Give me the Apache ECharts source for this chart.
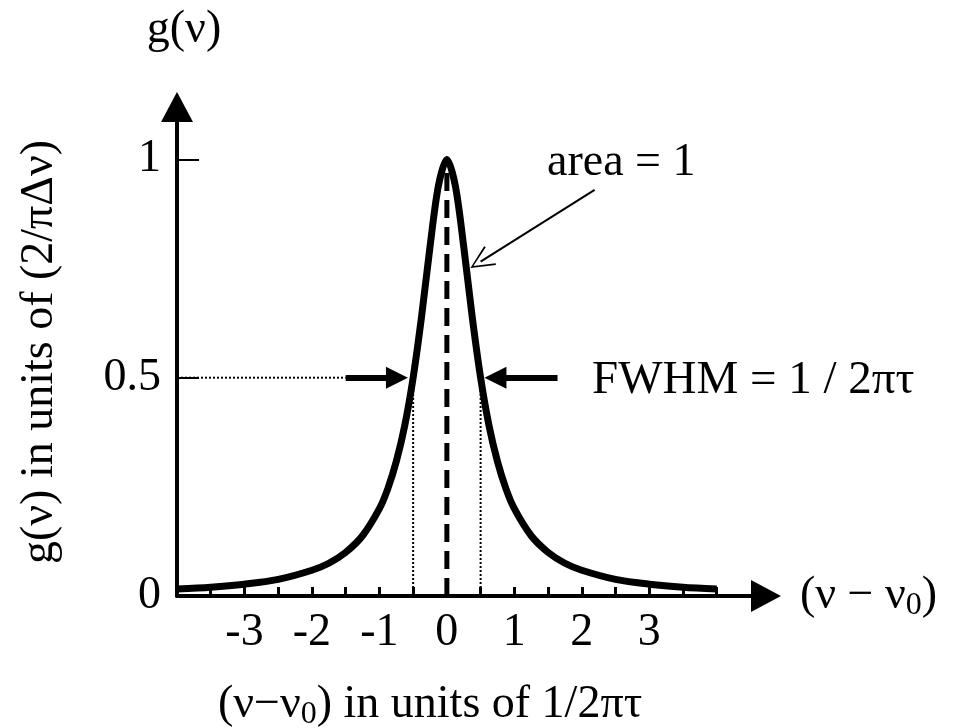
<!DOCTYPE html>
<html>
<head>
<meta charset="utf-8">
<title>Lorentzian line shape</title>
<script src="https://cdn.jsdelivr.net/npm/echarts@6/dist/echarts.min.js"></script>
<style>
  html, body { margin: 0; padding: 0; background: #fff; }
  #main { width: 955px; height: 728px; }
</style>
</head>
<body>
<div id="main"></div>
<script>
// line shape g(v) (x in units of 1/2*pi*tau)
var detuning = [-4, -3.5, -3, -2.5, -2, -1.75, -1.5, -1.25, -1, -0.875, -0.75, -0.625, -0.5, -0.375, -0.25, -0.125,
  0, 0.125, 0.25, 0.375, 0.5, 0.625, 0.75, 0.875, 1, 1.25, 1.5, 1.75, 2, 2.5, 3, 3.5, 4];
var lineShape = [0.016, 0.02, 0.027, 0.038, 0.059, 0.075, 0.1, 0.138, 0.2, 0.246, 0.308, 0.39, 0.5, 0.64, 0.8, 0.94,
  1, 0.94, 0.8, 0.64, 0.5, 0.39, 0.308, 0.246, 0.2, 0.138, 0.1, 0.075, 0.059, 0.038, 0.027, 0.02, 0.016];

// ticks and labels
var xTicks = [-4, -3.5, -3, -2.5, -2, -1.5, -1, -0.5, 0, 0.5, 1, 1.5, 2, 2.5, 3, 3.5, 4];
var xLabels = [-3, -2, -1, 0, 1, 2, 3];
var yTicks = [0.5, 1];
var yLabels = [0, 0.5, 1];

// annotation values
var peak = [0, 1];
var halfMax = 0.5;
var halfWidth = [-0.5, 0.5];
var guideFrom = -4, guideTo = -1.5;
var leftArrow = [-1.5, -0.74];
var rightArrow = [1.64, 0.72];
var areaPointer = [[2.19, 0.93], [0.5, 0.766]];

var serif = '"Liberation Serif", "Times New Roman", serif';
var fs = 46;

var chart = echarts.init(document.getElementById('main'));

function pairs(xs, ys) {
  var out = [];
  for (var i = 0; i < xs.length; i++) out.push([xs[i], ys[i]]);
  return out;
}

var option = {
  animation: false,
  backgroundColor: '#fff',
  grid: { left: 177, right: 189, top: 107, bottom: 132 },
  xAxis: {
    type: 'value',
    min: -4,
    max: 4.73,
    interval: 0.5,
    splitLine: { show: false },
    axisLine: {
      onZero: false,
      symbol: ['none', 'triangle'],
      symbolSize: [32, 30],
      lineStyle: { color: '#000', width: 4 }
    },
    axisTick: { inside: true, length: 9, customValues: xTicks, lineStyle: { color: '#000', width: 3 } },
    axisLabel: { customValues: xLabels, margin: 14, color: '#000', fontFamily: serif, fontSize: fs },
    name: '{a|(ν − ν}{s|0}{a|)}',
    nameLocation: 'end',
    nameGap: 34,
    nameTextStyle: {
      color: '#000',
      rich: {
        a: { fontFamily: serif, fontSize: fs, lineHeight: 52, color: '#000' },
        s: { fontFamily: serif, fontSize: 32, lineHeight: 26, verticalAlign: 'bottom', color: '#000' }
      }
    }
  },
  yAxis: {
    type: 'value',
    min: 0,
    max: 1.12,
    interval: 0.5,
    splitLine: { show: false },
    axisLine: {
      onZero: false,
      symbol: ['none', 'triangle'],
      symbolSize: [32, 30],
      lineStyle: { color: '#000', width: 4 }
    },
    axisTick: { inside: true, length: 22, customValues: yTicks, lineStyle: { color: '#000', width: 2 } },
    axisLabel: { customValues: yLabels, margin: 16, color: '#000', fontFamily: serif, fontSize: fs },
    name: 'g(ν)',
    nameLocation: 'end',
    nameGap: 54,
    nameTextStyle: { color: '#000', fontFamily: serif, fontSize: fs, padding: [0, 0, 0, 14] }
  },
  graphic: [
    {
      type: 'text', x: 40, y: 352, rotation: Math.PI / 2,
      style: { text: 'g(ν) in units of (2/πΔν)', font: fs + 'px ' + serif, fill: '#000', align: 'center', verticalAlign: 'middle' }
    },
    {
      type: 'text', x: 430, y: 705,
      style: {
        text: '{a|(ν−ν}{s|0}{a|) in units of 1/2πτ}', align: 'center', verticalAlign: 'middle',
        rich: {
          a: { fontFamily: serif, fontSize: fs, lineHeight: 52, fill: '#000' },
          s: { fontFamily: serif, fontSize: 32, lineHeight: 26, verticalAlign: 'bottom', fill: '#000' }
        }
      }
    },
    {
      type: 'text', x: 547, y: 163,
      style: { text: 'area = 1', font: fs + 'px ' + serif, fill: '#000', align: 'left', verticalAlign: 'middle' }
    },
    {
      type: 'text', x: 592, y: 381,
      style: { text: 'FWHM = 1 / 2πτ', font: '47px ' + serif, fill: '#000', align: 'left', verticalAlign: 'middle' }
    }
  ],
  series: [
    {
      name: 'peak', type: 'line', silent: true, showSymbol: false, z: 2,
      data: [[peak[0], 0], peak],
      lineStyle: { color: '#000', width: 5, type: [18, 9] }
    },
    {
      name: 'halfLeft', type: 'line', silent: true, showSymbol: false, z: 2,
      data: [[halfWidth[0], 0], [halfWidth[0], halfMax]],
      lineStyle: { color: '#000', width: 2, type: [2, 2] }
    },
    {
      name: 'halfRight', type: 'line', silent: true, showSymbol: false, z: 2,
      data: [[halfWidth[1], 0], [halfWidth[1], halfMax]],
      lineStyle: { color: '#000', width: 2, type: [2, 2] }
    },
    {
      name: 'guide', type: 'line', silent: true, showSymbol: false, z: 2,
      data: [[guideFrom, halfMax], [guideTo, halfMax]],
      lineStyle: { color: '#000', width: 2, type: [2, 2] },
      markLine: {
        silent: true,
        symbol: ['none', 'triangle'],
        symbolSize: [22, 22],
        label: { show: false },
        lineStyle: { color: '#000', width: 6, type: 'solid' },
        data: [
          [{ coord: [leftArrow[0], halfMax] }, { coord: [leftArrow[1], halfMax] }],
          [{ coord: [rightArrow[0], halfMax] }, { coord: [rightArrow[1], halfMax] }]
        ]
      }
    },
    {
      name: 'pointer', type: 'line', silent: true, showSymbol: false, data: [],
      markLine: {
        silent: true,
        symbol: ['none', 'path://M0,20 L10,0 L20,20 L18.6,20.8 L10,3 L1.4,20.8 Z'],
        symbolSize: [22, 24],
        label: { show: false },
        lineStyle: { color: '#000', width: 2, type: 'solid' },
        data: [
          [{ coord: areaPointer[0] }, { coord: areaPointer[1] }]
        ]
      }
    },
    {
      name: 'g', type: 'line', smooth: 0.3, showSymbol: false, z: 3,
      data: pairs(detuning, lineShape),
      lineStyle: { color: '#000', width: 7, join: 'round' }
    }
  ]
};

chart.setOption(option);
</script>
</body>
</html>
